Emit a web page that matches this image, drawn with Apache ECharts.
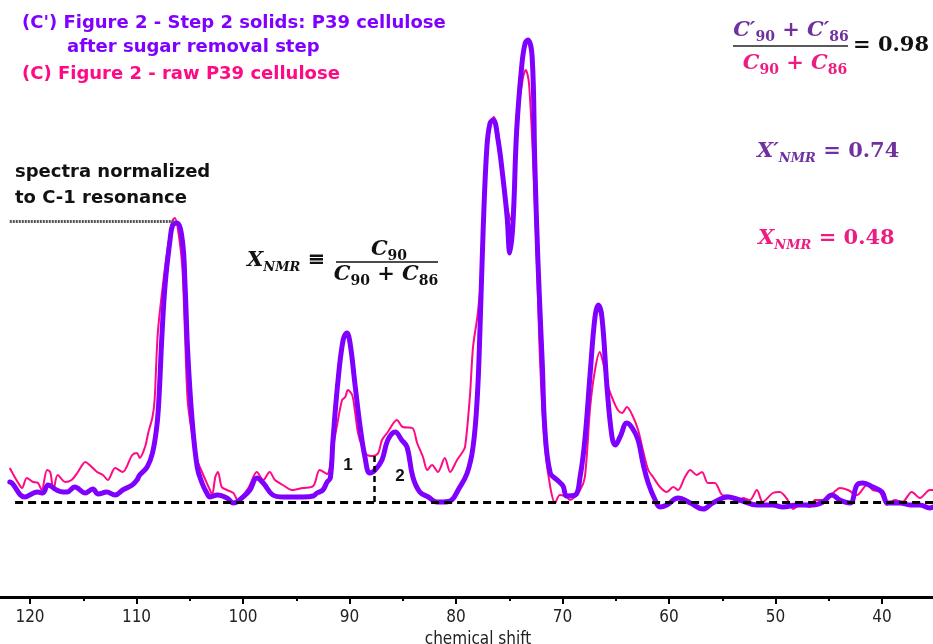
<!DOCTYPE html>
<html><head><meta charset="utf-8">
<script src="https://cdn.jsdelivr.net/npm/echarts@6.0.0/dist/echarts.min.js"></script>
<style>html,body{margin:0;padding:0;background:#fff}#c{width:933px;height:644px}</style>
</head><body><div id="c"></div>
<script>
// chemical shift (ppm) vs intensity (a.u., baseline = 0, C-1 peak ~ 280)
const rawP39 = [[121.9,34],[121.7,30],[121.1,19],[120.75,14],[120.3,24],[119.7,20],[119.25,19],[118.9,12],[118.4,32],[118.1,30],[117.8,12],[117.4,27],[116.7,20],[116.1,22],[115.5,30],[114.8,40],[114.4,37],[113.7,30],[113.15,27],[112.7,22],[112.0,34],[111.3,30],[110.4,47],[109.95,49],[109.7,44],[109.2,55],[108.9,69],[108.5,85],[108.3,102],[108.0,169],[107.5,219],[107.0,259],[106.6,282],[106.4,284],[106.1,272],[105.7,235],[105.45,169],[105.2,102],[104.8,69],[104.3,42],[103.85,30],[103.4,19],[103.1,12],[102.9,7],[102.6,25],[102.35,30],[102.0,15],[101.5,12],[100.9,9],[100.5,2],[99.5,14],[98.7,30],[98.1,22],[97.5,30],[97.0,22],[96.25,17],[95.4,12],[94.4,14],[93.4,16],[92.8,32],[92.1,28],[91.65,49],[91.2,75],[90.7,102],[90.4,105],[90.15,112],[89.75,107],[89.5,92],[89.2,69],[88.8,55],[88.35,47],[87.8,46],[87.3,49],[86.95,62],[86.4,70],[85.55,82],[85.0,75],[84.1,74],[83.65,59],[83.1,45],[82.7,32],[82.25,37],[81.7,30],[81.05,44],[80.55,30],[79.9,42],[79.45,49],[79.15,55],[78.7,105],[78.4,155],[77.95,189],[77.55,239],[77.3,322],[76.9,372],[76.45,385],[76.05,369],[75.6,329],[75.2,295],[74.85,282],[74.55,315],[74.2,385],[73.7,425],[73.45,432],[73.15,419],[72.75,339],[72.4,239],[72.1,139],[71.65,55],[71.15,15],[70.7,-1],[70.25,7],[69.6,5],[69.3,2],[68.35,12],[67.9,25],[67.4,95],[66.95,132],[66.5,150],[66.2,140],[65.7,115],[65.25,102],[64.8,92],[64.4,89],[63.95,95],[63.45,87],[62.9,72],[62.45,52],[61.95,32],[61.5,25],[60.85,15],[60.2,10],[59.6,15],[59.15,12],[58.5,25],[58.0,32],[57.4,27],[56.9,30],[56.35,19],[55.7,19],[55.0,7],[54.25,6],[53.6,-1],[53.05,4],[52.4,2],[51.75,12],[51.2,0],[50.25,9],[49.6,10],[48.85,2],[48.35,-7],[47.7,-3],[46.75,-5],[46.3,2],[45.55,2],[44.6,9],[43.95,14],[43.2,12],[42.35,7],[41.4,17],[40.85,12],[40.2,10],[39.55,-3],[38.8,2],[38.1,0],[37.2,10],[36.45,4],[35.5,12],[35.2,12]];

const step2Solids = [[121.9,20],[121.7,19],[120.5,5],[119.3,10],[118.8,9],[118.3,17],[117.5,12],[116.9,10],[116.5,10],[115.8,15],[114.8,9],[114.1,13],[113.6,8],[112.8,10],[112.0,7],[111.3,12],[110.4,17],[109.95,22],[109.7,27],[109.0,35],[108.5,49],[108.1,75],[107.9,102],[107.6,169],[107.3,219],[106.85,262],[106.6,277],[106.2,279],[105.7,262],[105.45,219],[105.2,152],[104.8,85],[104.3,35],[103.85,19],[103.4,9],[103.1,5],[102.4,7],[101.5,4],[100.9,-1],[100.0,5],[99.35,12],[98.7,24],[98.1,19],[97.2,7],[96.25,5],[95.3,5],[94.4,5],[93.4,6],[93.05,9],[92.5,12],[92.1,20],[91.8,24],[91.55,62],[91.1,119],[90.6,162],[90.25,169],[89.95,159],[89.5,119],[89.0,75],[88.55,45],[88.1,29],[87.6,32],[86.95,42],[86.4,62],[85.7,70],[85.1,62],[84.6,55],[84.05,25],[83.4,10],[82.6,5],[81.8,0],[81.2,0],[80.4,2],[79.8,12],[78.95,29],[78.4,55],[78.0,105],[77.75,172],[77.45,272],[77.1,355],[76.8,379],[76.5,382],[76.05,362],[75.6,325],[75.2,285],[74.95,249],[74.65,279],[74.3,372],[73.8,439],[73.5,459],[73.25,462],[72.85,445],[72.6,339],[72.3,239],[71.9,139],[71.65,72],[71.15,29],[70.5,22],[69.95,16],[69.6,6],[68.8,7],[68.35,25],[67.9,62],[67.4,129],[66.95,185],[66.65,197],[66.3,185],[65.8,112],[65.35,65],[65.05,57],[64.6,65],[63.95,79],[63.45,74],[62.9,62],[62.45,39],[61.95,19],[61.3,2],[60.85,-5],[60.2,-3],[59.15,4],[58.0,-1],[56.8,-7],[55.9,-1],[54.45,5],[53.35,2],[51.75,-3],[50.25,-3],[49.3,-5],[48.0,-3],[46.5,-3],[45.55,0],[44.7,7],[43.95,2],[43.0,-1],[42.35,17],[41.8,19],[40.85,15],[40.0,10],[39.45,-1],[38.3,-1],[37.35,-3],[36.45,-3],[35.5,-6],[35.2,-5]];

const tickLabels = [120,110,100,90,80,70,60,50,40];

const PURPLE = '#8000ff', PINK = '#ff0a84';
const FPURPLE = '#7030a0', FPINK = '#ec1c80';
const SERIF = '"DejaVu Serif", "Liberation Serif", serif';
const SANS = '"DejaVu Sans", sans-serif';
const NARROW = '"Liberation Sans Narrow","DejaVu Sans Condensed","Liberation Sans",sans-serif';

function richSet(color){
  return {
    v:{fontFamily:SERIF,fontWeight:'bold',fontStyle:'italic',fontSize:21,fill:color,lineHeight:26},
    o:{fontFamily:SERIF,fontWeight:'bold',fontSize:21,fill:color,lineHeight:26},
    k:{fontFamily:SERIF,fontWeight:'bold',fontSize:21,fill:'#111',lineHeight:26},
    s:{fontFamily:SERIF,fontWeight:'bold',fontStyle:'italic',fontSize:13,fill:color,lineHeight:14,verticalAlign:'bottom'},
    d:{fontFamily:SERIF,fontWeight:'bold',fontSize:14,fill:color,lineHeight:14,verticalAlign:'bottom'}
  };
}
function ftext(x,y,text,color,align){
  return {type:'text',x:x,y:y,silent:true,style:{text:text,rich:richSet(color),align:align||'left',verticalAlign:'middle'}};
}
function ptext(x,y,text,color,font,align){
  return {type:'text',x:x,y:y,silent:true,style:{text:text,fill:color,font:font,align:align||'left',verticalAlign:'middle'}};
}
function bar(x1,x2,y,color){
  return {type:'line',silent:true,shape:{x1:x1,y1:y,x2:x2,y2:y},style:{stroke:color,lineWidth:1.6}};
}

const chart = echarts.init(document.getElementById('c'), null, {renderer:'canvas'});
chart.setOption({
  animation:false,
  backgroundColor:'#fff',
  grid:{left:-76.5,right:-55.5,top:0,bottom:47,outerBoundsMode:'none',containLabel:false},
  xAxis:{
    type:'value',inverse:true,min:30,max:130,interval:10,
    axisLine:{show:true,onZero:false,lineStyle:{color:'#000',width:3}},
    axisTick:{show:true,length:7,lineStyle:{color:'#000',width:2}},
    minorTick:{show:true,splitNumber:2,length:4,lineStyle:{color:'#000',width:2}},
    splitLine:{show:false},minorSplitLine:{show:false},
    axisLabel:{margin:12,fontSize:17,color:'#222',fontFamily:NARROW,
      formatter:function(v){return tickLabels.indexOf(v)>=0?String(v):'';}},
    name:'chemical shift',nameLocation:'middle',nameGap:31,
    nameTextStyle:{fontSize:17,color:'#222',fontFamily:NARROW,padding:[0,0,0,44]}
  },
  yAxis:{type:'value',min:-95,max:502,show:false,splitLine:{show:false}},
  series:[
    {name:'(C) raw P39 cellulose',type:'line',data:rawP39,symbol:'none',smooth:0.3,
      lineStyle:{color:PINK,width:2,join:'round'},z:2},
    {name:"(C') Step 2 solids",type:'line',data:step2Solids,symbol:'none',smooth:0.4,
      lineStyle:{color:PURPLE,width:5,join:'round',cap:'round'},z:3,
      markLine:{symbol:'none',silent:true,animation:false,label:{show:false},
        data:[
          [{coord:[121.4,0],lineStyle:{type:[8,5],width:3,color:'#000'}},{coord:[30,0]}],
          [{coord:[87.65,0],lineStyle:{type:[6,4],width:2.5,color:'#000'}},{coord:[87.65,50]}],
          [{coord:[121.9,281],lineStyle:{type:[2,1],width:3,color:'#555'}},{coord:[106.4,281]}]
        ]}
    }
  ],
  graphic:[
    ptext(22,23,"(C') Figure 2 - Step 2 solids: P39 cellulose",PURPLE,'bold 18px '+SANS),
    ptext(67,47,'after sugar removal step',PURPLE,'bold 18px '+SANS),
    ptext(22,74,'(C) Figure 2 - raw P39 cellulose',PINK,'bold 18px '+SANS),
    ptext(15,172,'spectra normalized','#111','bold 18px '+SANS),
    ptext(15,198,'to C-1 resonance','#111','bold 18px '+SANS),
    ptext(348,465,'1','#111','bold 17px "Liberation Sans", sans-serif','center'),
    ptext(400,476,'2','#111','bold 17px "Liberation Sans", sans-serif','center'),
    // X_NMR definition
    ftext(247,261,'{v|X}{s|NMR}{o| ≡}','#111'),
    ftext(389,250,'{v|C}{d|90}','#111','center'),
    bar(336,438,262,'#111'),
    ftext(386,275,'{v|C}{d|90}{o| + }{v|C}{d|86}','#111','center'),
    // ratio formula
    ftext(791,31,'{v|C′}{d|90}{o| + }{v|C′}{d|86}',FPURPLE,'center'),
    bar(733,848,46,'#222'),
    ftext(795,64,'{v|C}{d|90}{o| + }{v|C}{d|86}',FPINK,'center'),
    ftext(853,46,'{k|= 0.98}','#111'),
    ftext(757,152,'{v|X′}{s|NMR}{o| = 0.74}',FPURPLE),
    ftext(758,239,'{v|X}{s|NMR}{o| = 0.48}',FPINK)
  ]
});
</script></body></html>
